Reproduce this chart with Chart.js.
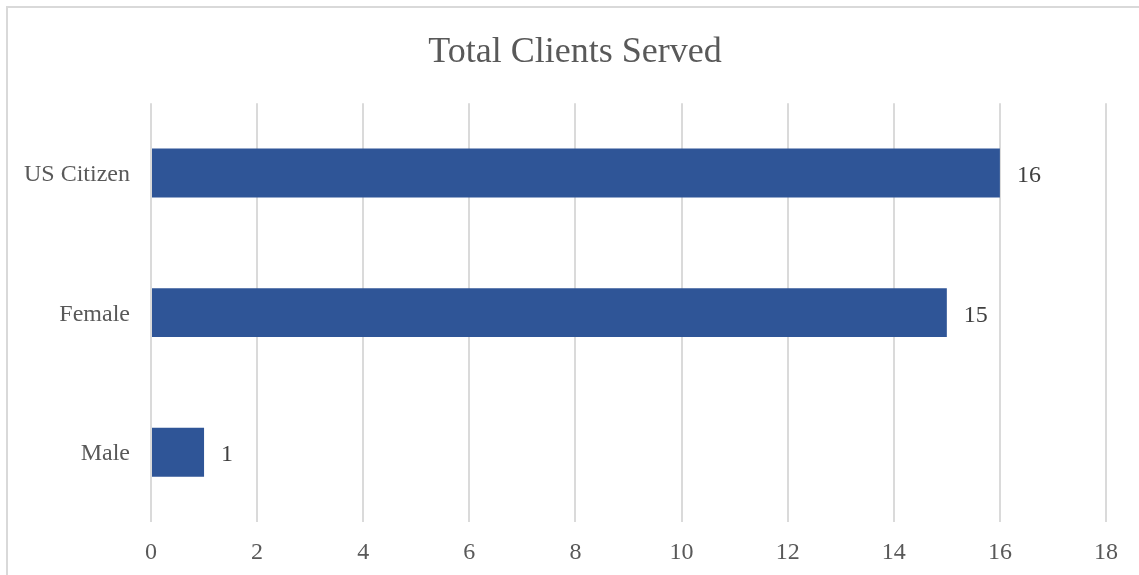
<!DOCTYPE html>
<html>
<head>
<meta charset="utf-8">
<title>Total Clients Served</title>
<script src="https://cdn.jsdelivr.net/npm/chart.js@4/dist/chart.umd.min.js"></script>
<style>
    html, body { margin: 0; padding: 0; background: #fff; overflow: hidden; }
    #wrap { position: relative; width: 1139px; height: 575px; }
</style>
</head>
<body>
<div id="wrap"><canvas id="clientsChart"></canvas></div>
<script>
const categories = ["US Citizen", "Female", "Male"];
const clientCounts = [16, 15, 1];
const xTicks = [0, 2, 4, 6, 8, 10, 12, 14, 16, 18];

const serif = "'Liberation Serif', 'Times New Roman', serif";

// light frame around the whole chart
const framePlugin = {
    id: "frame",
    beforeDraw(chart) {
        const ctx = chart.ctx;
        ctx.save();
        ctx.strokeStyle = "#d9d9d9";
        ctx.lineWidth = 2;
        ctx.strokeRect(7, 7, chart.width + 20, chart.height + 20);
        ctx.restore();
    }
};

// value printed just past the end of each bar
const valueLabels = {
    id: "valueLabels",
    afterDatasetsDraw(chart) {
        const ctx = chart.ctx;
        const meta = chart.getDatasetMeta(0);
        ctx.save();
        ctx.font = "24px " + serif;
        ctx.fillStyle = "#404040";
        ctx.textAlign = "left";
        ctx.textBaseline = "middle";
        meta.data.forEach((bar, i) => {
            ctx.fillText(String(chart.data.datasets[0].data[i]), bar.x + 17, bar.y + 3);
        });
        ctx.restore();
    }
};

new Chart(document.getElementById("clientsChart"), {
    type: "bar",
    data: {
        labels: categories,
        datasets: [{
            data: clientCounts,
            backgroundColor: "#2f5597",
            borderWidth: 0,
            barPercentage: 0.35,
            categoryPercentage: 1
        }]
    },
    options: {
        indexAxis: "y",
        responsive: true,
        maintainAspectRatio: false,
        animation: false,
        layout: { padding: { left: 11, right: 0, top: 0, bottom: 0 } },
        plugins: {
            legend: { display: false },
            tooltip: { enabled: false },
            title: {
                display: true,
                text: "Total Clients Served",
                color: "#595959",
                font: { family: serif, size: 36, weight: "normal", lineHeight: 1.2 },
                padding: { top: 31, bottom: 29 }
            }
        },
        scales: {
            x: {
                min: 0,
                max: 18,
                afterBuildTicks(scale) {
                    scale.ticks = xTicks.map(v => ({ value: v }));
                },
                afterFit(scale) {
                    scale.height = 53;
                    scale.paddingRight = 33;
                },
                border: { display: false },
                grid: { color: "#dadada", lineWidth: 2, drawTicks: false },
                ticks: {
                    color: "#595959",
                    padding: 16,
                    font: { family: serif, size: 24 }
                }
            },
            y: {
                afterFit(scale) {
                    scale.width = 140;
                },
                border: { display: false },
                grid: { display: false },
                ticks: {
                    color: "#595959",
                    padding: 13,
                    labelOffset: 2,
                    font: { family: serif, size: 24 }
                }
            }
        }
    },
    plugins: [framePlugin, valueLabels]
});
</script>
</body>
</html>
